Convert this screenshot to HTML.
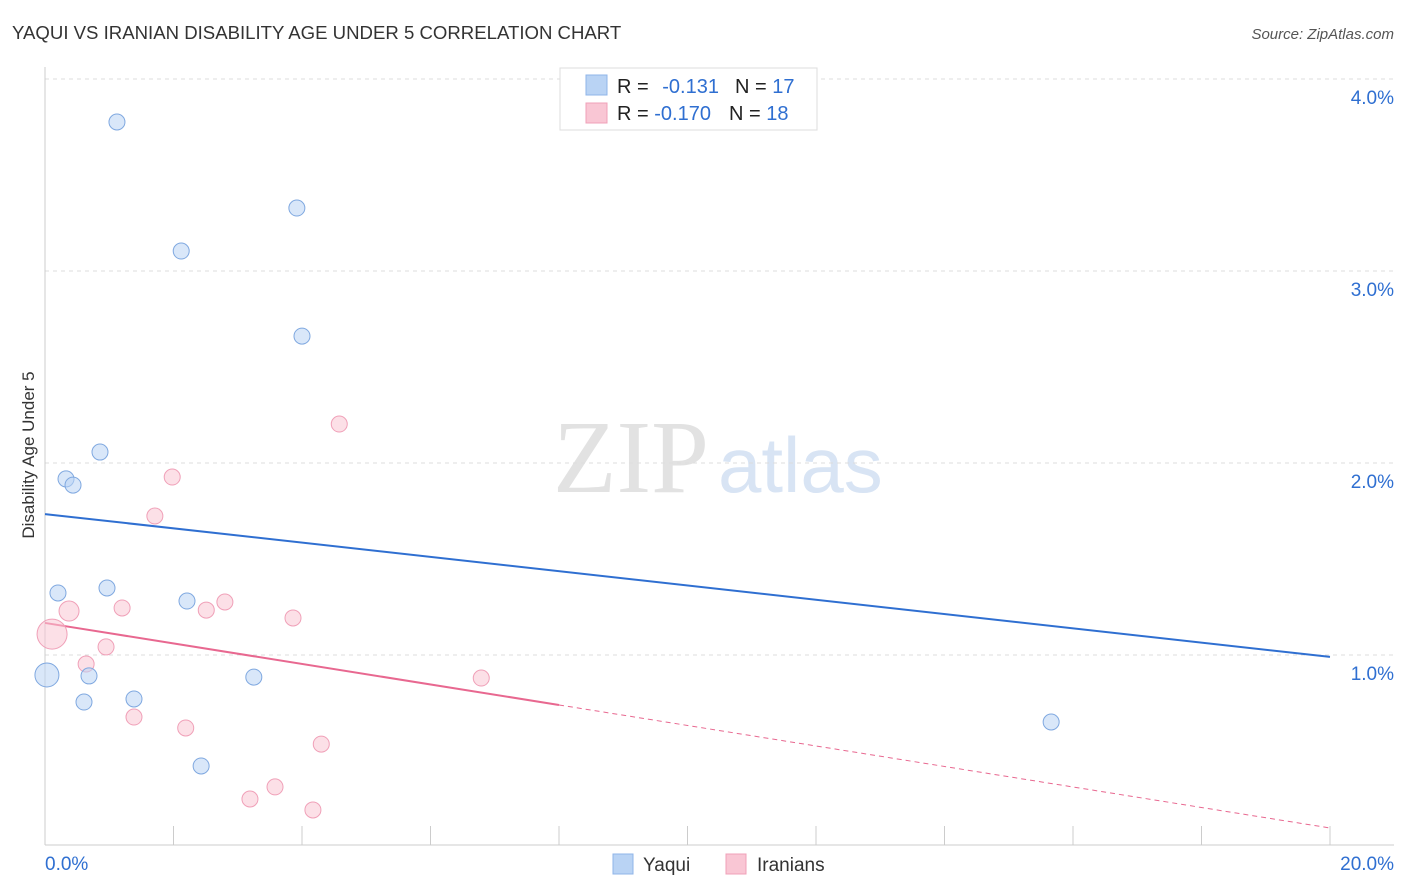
<!DOCTYPE html>
<html><head><meta charset="utf-8"><style>
body{margin:0;background:#fff;font-family:"Liberation Sans",sans-serif;}
svg{display:block}
</style></head><body>
<svg width="1406" height="892">
<text x="12" y="39" font-size="18.6" fill="#333">YAQUI VS IRANIAN DISABILITY AGE UNDER 5 CORRELATION CHART</text>
<text x="1394" y="39" font-size="15" fill="#555" font-style="italic" text-anchor="end">Source: ZipAtlas.com</text>
<text x="553" y="492" font-size="104" fill="#e2e2e2" font-family="Liberation Serif">ZIP</text>
<text x="718" y="492" font-size="78" fill="#d8e4f4">atlas</text>
<g id="grid"></g>
<g id="axes"></g>
<text transform="translate(34,455) rotate(-90)" font-size="17" fill="#333" text-anchor="middle">Disability Age Under 5</text>
<g id="lines"></g>
<g id="pts"></g>
<g>
<rect x="560" y="68" width="257" height="62" fill="#fff" stroke="#ddd"/>
<rect x="586" y="75" width="21" height="20" fill="#b9d3f4" stroke="#8fb5e8"/>
<rect x="586" y="103" width="21" height="20" fill="#f9c6d4" stroke="#f0a0b8"/>
<text x="617" y="93" font-size="20" fill="#222">R = <tspan fill="#2f6fd1" dx="8">-0.131</tspan><tspan fill="#222" dx="16">N = </tspan><tspan fill="#2f6fd1">17</tspan></text>
<text x="617" y="120" font-size="20" fill="#222">R = <tspan fill="#2f6fd1">-0.170</tspan><tspan fill="#222" dx="18">N = </tspan><tspan fill="#2f6fd1">18</tspan></text>
</g>
<g>
<rect x="613" y="854" width="20" height="20" fill="#b9d3f4" stroke="#8fb5e8"/>
<text x="643" y="871" font-size="19" fill="#333">Yaqui</text>
<rect x="726" y="854" width="20" height="20" fill="#f9c6d4" stroke="#f0a0b8"/>
<text x="757" y="871" font-size="19" fill="#333">Iranians</text>
</g>
</svg>
<script>
const yaquiX=[1.12,3.92,2.12,4.00,0.856,0.327,0.436,0.202,0.965,2.21,0.03,0.685,0.607,1.385,3.25,2.43,15.66];
const yaquiY=[3.776,3.328,3.104,2.661,2.057,1.917,1.885,1.323,1.349,1.281,0.896,0.891,0.755,0.771,0.885,0.422,0.651];
const yaquiR=[8,8,8,8,8,8,8,8,8,8,12,8,8,8,8,8,8];
const iranX=[4.58,1.98,1.71,0.374,1.20,2.51,2.80,3.86,0.11,0.95,0.64,6.79,1.385,2.19,4.30,3.58,3.19,4.17];
const iranY=[2.203,1.927,1.724,1.229,1.245,1.234,1.276,1.193,1.109,1.042,0.953,0.880,0.677,0.620,0.536,0.313,0.250,0.193];
const iranR=[8,8,8,10,8,8,8,8,15,8,8,8,8,8,8,8,8,8];
const yTicks=[1,2,3,4];
const yTickLabels=["1.0%","2.0%","3.0%","4.0%"];
const xTicks=[0,2,4,6,8,10,12,14,16,18,20];
const yaquiLine=[1.734,0.99];
const iranLine=[1.167,0.099];
const iranSolidEnd=8;
const X=v=>45+v/20*1285, Y=v=>847-v*192;
const NS="http://www.w3.org/2000/svg";
function mk(p,tag,a){const e=document.createElementNS(NS,tag);for(const k in a)e.setAttribute(k,a[k]);p.appendChild(e);return e;}
const grid=document.getElementById('grid'),axes=document.getElementById('axes'),lines=document.getElementById('lines'),pts=document.getElementById('pts');
yTicks.forEach((t,i)=>{
 const l=mk(grid,'line',{x1:45,x2:1394,y1:Y(t),y2:Y(t),stroke:'#ddd','stroke-dasharray':'4,4'});
 
 
 const tx=mk(grid,'text',{x:1394,y:Y(t)+25,'font-size':19,fill:'#2f6fd1','text-anchor':'end'});
 tx.textContent=yTickLabels[i];
 
 
});
const al=mk(axes,'line',{x1:45,x2:45,y1:67,y2:845,stroke:'#ccc'});


const bl=mk(axes,'line',{x1:45,x2:1394,y1:845,y2:845,stroke:'#ccc'});


xTicks.forEach(t=>{
 const k=mk(axes,'line',{x1:X(t),x2:X(t),y1:826,y2:845,stroke:'#ccc'});
 
 
});
const x0=mk(axes,'text',{x:45,y:870,'font-size':19,fill:'#2f6fd1'});x0.textContent=xTicks[0].toFixed(1)+'%';


const x1=mk(axes,'text',{x:1394,y:870,'font-size':19,fill:'#2f6fd1','text-anchor':'end'});x1.textContent=xTicks[xTicks.length-1].toFixed(1)+'%';


const yl=mk(lines,'line',{x1:X(0),x2:X(20),y1:Y(yaquiLine[0]),y2:Y(yaquiLine[1]),stroke:'#2f6fd1','stroke-width':2});


const iv=x=>iranLine[0]+(iranLine[1]-iranLine[0])*x/20;
const il=mk(lines,'line',{x1:X(0),x2:X(iranSolidEnd),y1:Y(iv(0)),y2:Y(iv(iranSolidEnd)),stroke:'#e86890','stroke-width':2});


const id=mk(lines,'line',{x1:X(iranSolidEnd),x2:X(20),y1:Y(iv(iranSolidEnd)),y2:Y(iv(20)),stroke:'#e86890','stroke-width':1,'stroke-dasharray':'5,4'});


iranX.forEach((v,i)=>{
 const c=mk(pts,'circle',{cx:X(v),cy:Y(iranY[i]),r:iranR[i],fill:'rgba(249,198,212,0.55)',stroke:'#f0a0b8','stroke-width':1});
 
 
});
yaquiX.forEach((v,i)=>{
 const c=mk(pts,'circle',{cx:X(v),cy:Y(yaquiY[i]),r:yaquiR[i],fill:'rgba(185,211,244,0.55)',stroke:'#7fa8e0','stroke-width':1});
 
 
});
</script>
</body></html>
